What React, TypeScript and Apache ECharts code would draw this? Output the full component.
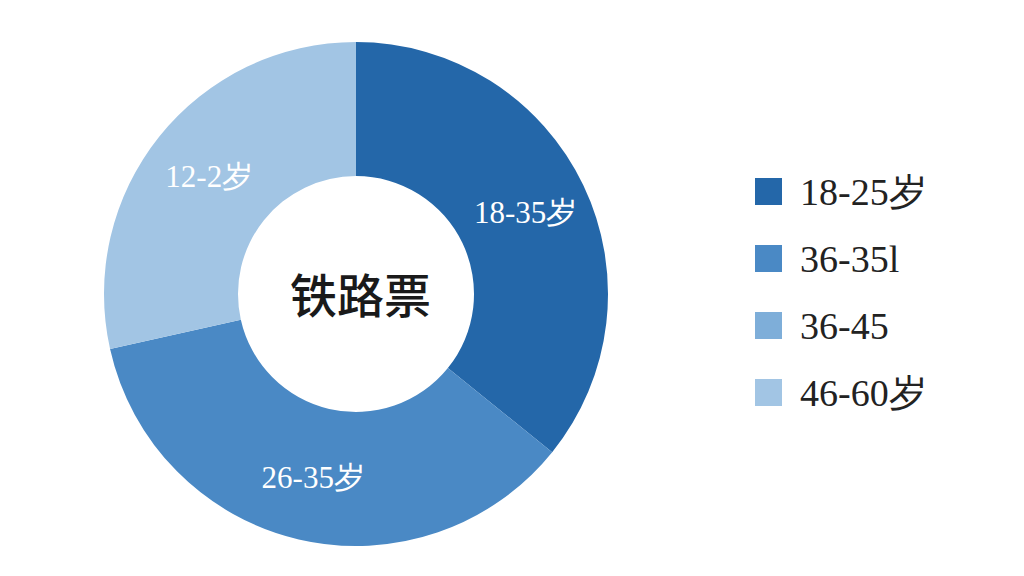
import React, { useEffect, useRef } from "react";
import * as echarts from "echarts";

const legendNames = ["18-25岁", "36-35l", "36-45", "46-60岁"];
const sliceLabels = ["18-35岁", "26-35岁", "", "12-2岁"];
const shares = [35.8, 35.7, 0, 28.5];
const colors = ["#2467a9", "#4a89c5", "#7eaed9", "#a2c5e4"];
const centerTitle = "铁路票";

export default function App() {
  const ref = useRef<HTMLDivElement>(null);
  useEffect(() => {
    document.body.style.margin = "0";
    const chart = echarts.init(ref.current!, undefined, { renderer: "svg" });
    chart.setOption({
      animation: false,
      backgroundColor: "#ffffff",
      legend: {
        orient: "vertical",
        left: 750,
        top: 166,
        icon: "rect",
        itemWidth: 27,
        itemHeight: 27,
        itemGap: 26,
        data: legendNames,
        selectedMode: false,
        textStyle: {
          fontFamily: "Liberation Serif",
          fontSize: 38,
          color: "#222222",
          lineHeight: 41,
          padding: [0, 0, 0, 13],
        },
      },
      graphic: [
        {
          type: "text",
          left: 290,
          top: 269,
          style: {
            text: centerTitle,
            font: '500 47px "Noto Sans CJK SC"',
            fill: "#1a1a1a",
          },
        },
      ],
      series: [
        {
          type: "pie",
          center: [356, 294],
          radius: [118, 252],
          startAngle: 90,
          clockwise: true,
          avoidLabelOverlap: false,
          label: {
            show: true,
            position: "inside",
            color: "#ffffff",
            fontFamily: "Liberation Serif",
            fontSize: 31,
            formatter: (p: any) => sliceLabels[p.dataIndex],
          },
          labelLine: { show: false },
          emphasis: { disabled: true },
          data: legendNames.map((n, i) => ({
            name: n,
            value: shares[i],
            itemStyle: { color: colors[i] },
            label: { show: sliceLabels[i] !== "" },
          })),
        },
      ],
    });
    return () => chart.dispose();
  }, []);
  return (
    <div
      ref={ref}
      style={{ position: "absolute", left: 0, top: 0, width: 1024, height: 576 }}
    />
  );
}
